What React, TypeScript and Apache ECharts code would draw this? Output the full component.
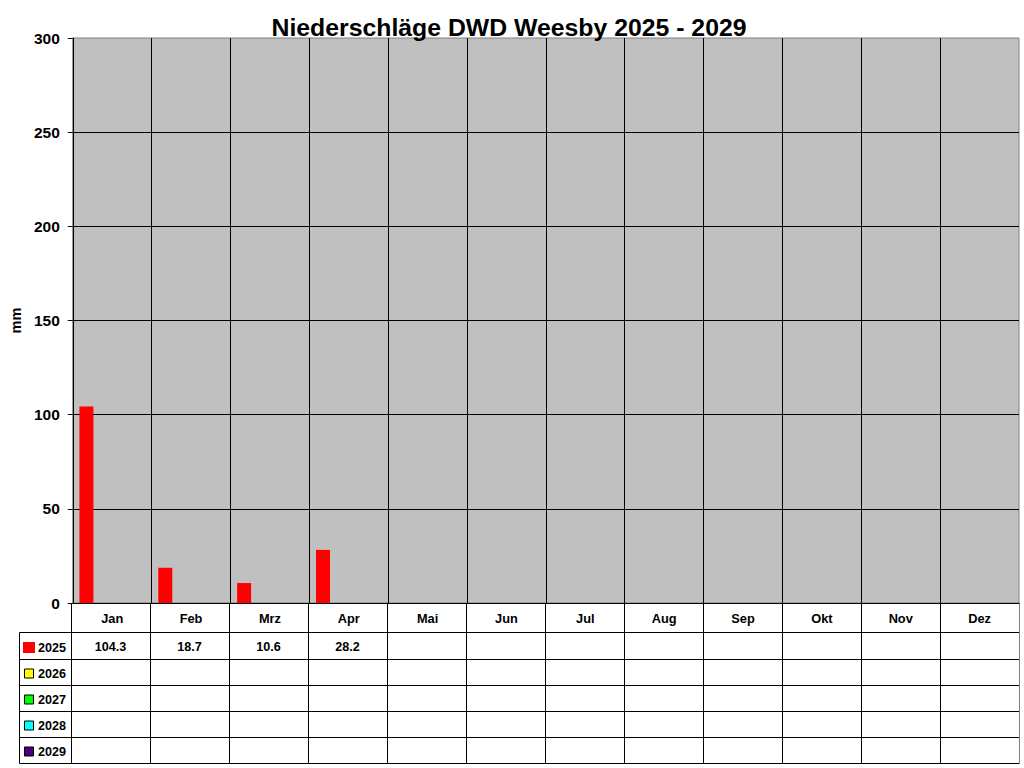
import React, { useEffect, useRef } from "react";
import * as echarts from "echarts";

const title = "Niederschläge DWD Weesby 2025 - 2029";
const months = ["Jan", "Feb", "Mrz", "Apr", "Mai", "Jun", "Jul", "Aug", "Sep", "Okt", "Nov", "Dez"];
const years = ["2025", "2026", "2027", "2028", "2029"];
const yearColors = ["#FF0000", "#FFFF00", "#00FF00", "#00FFFF", "#4B0082"];
const values2025 = [104.3, 18.7, 10.6, 28.2, null, null, null, null, null, null, null, null];
const values2026 = [null, null, null, null, null, null, null, null, null, null, null, null];
const values2027 = [null, null, null, null, null, null, null, null, null, null, null, null];
const values2028 = [null, null, null, null, null, null, null, null, null, null, null, null];
const values2029 = [null, null, null, null, null, null, null, null, null, null, null, null];
const yMin = 0;
const yMax = 300;
const yStep = 50;
const yAxisName = "mm";

const seriesValues: (number | null)[][] = [values2025, values2026, values2027, values2028, values2029];

const FONT = "'Liberation Sans', Arial, sans-serif";

export default function App() {
  const ref = useRef<HTMLDivElement>(null);
  useEffect(() => {
    if (!ref.current) return;
    const chart = echarts.init(ref.current, null, { renderer: "svg" });

    const L = 71, R = 1019, T = 38, B = 603;
    const colW = (R - L) / months.length;
    const tableLeft = 19.5;
    const rowLines = [632.5, 659.5, 685.5, 711.5, 737.5, 763.5];
    const black = "#000";
    const graphics: any[] = [];

    // title
    graphics.push({
      type: "text",
      x: 509,
      y: 27,
      z: 100,
      style: {
        text: title,
        align: "center",
        verticalAlign: "middle",
        font: `bold 24.8px ${FONT}`,
        fill: "#000",
      },
    });

    // horizontal table lines
    rowLines.forEach((y) => {
      graphics.push({
        type: "line",
        shape: { x1: tableLeft, y1: y, x2: R + 0.5, y2: y },
        style: { stroke: black, lineWidth: 1 },
      });
    });
    // left vertical of legend column
    graphics.push({
      type: "line",
      shape: { x1: tableLeft, y1: rowLines[0], x2: tableLeft, y2: rowLines[rowLines.length - 1] },
      style: { stroke: black, lineWidth: 1 },
    });
    // category boundaries
    for (let i = 0; i <= months.length; i++) {
      const x = Math.round(L + colW * i) + 0.5;
      graphics.push({
        type: "line",
        shape: { x1: x, y1: B, x2: x, y2: rowLines[rowLines.length - 1] },
        style: { stroke: i === months.length ? "#808080" : black, lineWidth: 1 },
      });
    }

    // legend keys + year labels + values
    years.forEach((yr, r) => {
      const cy = (rowLines[r] + rowLines[r + 1]) / 2;
      if (r === 0) {
        graphics.push({
          type: "rect",
          shape: { x: 23, y: cy - 4, width: 12, height: 11 },
          style: { fill: yearColors[r] },
        });
      } else {
        graphics.push({
          type: "rect",
          shape: { x: 24.5, y: cy - 3.5, width: 9, height: 9 },
          style: { fill: yearColors[r], stroke: black, lineWidth: 1 },
        });
      }
      graphics.push({
        type: "text",
        x: 38,
        y: cy + 1.5,
        style: {
          text: yr,
          align: "left",
          verticalAlign: "middle",
          font: `bold 12.6px ${FONT}`,
          fill: "#000",
        },
      });
      seriesValues[r].forEach((v, i) => {
        if (v == null) return;
        graphics.push({
          type: "text",
          x: L + colW * (i + 0.5),
          y: cy + 1,
          style: {
            text: v.toFixed(1),
            align: "center",
            verticalAlign: "middle",
            font: `bold 12.6px ${FONT}`,
            fill: "#000",
          },
        });
      });
    });

    const option: any = {
      animation: false,
      backgroundColor: "#fff",
      textStyle: { fontFamily: FONT },
      grid: {
        left: L,
        top: T,
        width: R - L,
        height: B - T,
        show: true,
        backgroundColor: "#C0C0C0",
        borderColor: "#808080",
        borderWidth: 1,
        containLabel: false,
      },
      xAxis: {
        type: "category",
        data: months,
        boundaryGap: true,
        axisLine: { show: true, lineStyle: { color: black, width: 1 } },
        axisTick: { show: false },
        axisLabel: {
          interval: 0,
          margin: 15,
          verticalAlign: "middle",
          color: "#000",
          fontWeight: "bold",
          fontSize: 12.8,
          fontFamily: FONT,
        },
        splitLine: {
          show: true,
          interval: 0,
          showMinLine: false,
          showMaxLine: false,
          lineStyle: { color: black, width: 1 },
        },
      },
      yAxis: {
        type: "value",
        min: yMin,
        max: yMax,
        interval: yStep,
        name: yAxisName,
        nameLocation: "middle",
        nameGap: 45,
        nameRotate: 90,
        nameTextStyle: { color: "#000", fontWeight: "bold", fontSize: 14.5, fontFamily: FONT },
        axisLine: { show: true, lineStyle: { color: black, width: 1 } },
        axisTick: { show: true, inside: false, length: 5, lineStyle: { color: black } },
        axisLabel: {
          margin: 13,
          color: "#000",
          fontWeight: "bold",
          fontSize: 15.5,
          fontFamily: FONT,
        },
        splitLine: {
          show: true,
          showMinLine: false,
          showMaxLine: false,
          lineStyle: { color: black, width: 1 },
        },
      },
      series: years.map((yr, r) => ({
        name: yr,
        type: "bar",
        data: seriesValues[r],
        barWidth: 14,
        barGap: "-8%",
        itemStyle: { color: yearColors[r] },
      })),
      graphic: graphics,
    };
    chart.setOption(option);
    return () => chart.dispose();
  }, []);

  return (
    <div
      ref={ref}
      style={{ width: 1024, height: 768, position: "absolute", left: 0, top: 0, background: "#fff" }}
    />
  );
}
